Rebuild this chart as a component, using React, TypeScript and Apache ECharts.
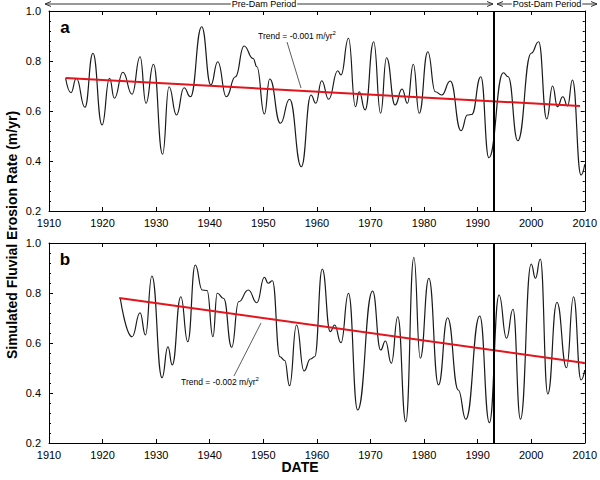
import React, { useEffect, useRef } from "react";
import * as echarts from "echarts";

const yearsA = [1913.1, 1914.1, 1915.1, 1916.7, 1918.2, 1919.9, 1921.3, 1922.2, 1923.8, 1925.5, 1927.0, 1928.1, 1929.5, 1931.2, 1932.4, 1933.8, 1935.2, 1936.4, 1938.5, 1940.2, 1941.5, 1943.1, 1944.8, 1946.4, 1948.1, 1948.8, 1950.2, 1951.2, 1953.2, 1954.9, 1957.1, 1958.9, 1959.8, 1960.9, 1962.2, 1963.9, 1964.5, 1965.9, 1967.2, 1967.9, 1969.0, 1970.6, 1971.9, 1973.0, 1974.6, 1975.9, 1976.9, 1978.0, 1979.1, 1980.7, 1982.1, 1983.3, 1984.9, 1986.9, 1988.1, 1988.9, 1990.6, 1992.1, 1994.8, 1995.7, 1997.5, 2000.0, 2001.4, 2002.9, 2004.0, 2004.9, 2005.9, 2006.8, 2007.7, 2009.3, 2010.0];
const valuesA = [0.731, 0.673, 0.731, 0.615, 0.831, 0.544, 0.731, 0.651, 0.755, 0.667, 0.817, 0.631, 0.787, 0.427, 0.697, 0.584, 0.693, 0.657, 0.937, 0.704, 0.797, 0.657, 0.737, 0.86, 0.81, 0.777, 0.588, 0.728, 0.551, 0.647, 0.377, 0.664, 0.631, 0.721, 0.647, 0.761, 0.744, 0.891, 0.617, 0.677, 0.604, 0.877, 0.591, 0.813, 0.624, 0.688, 0.631, 0.787, 0.591, 0.837, 0.677, 0.664, 0.72, 0.521, 0.584, 0.586, 0.737, 0.413, 0.753, 0.737, 0.481, 0.831, 0.877, 0.568, 0.70, 0.617, 0.657, 0.62, 0.724, 0.344, 0.387];

const yearsB = [1923.3, 1925.5, 1927.0, 1928.0, 1929.2, 1931.1, 1932.2, 1933.0, 1934.6, 1935.9, 1937.3, 1938.6, 1939.5, 1940.6, 1941.4, 1942.6, 1944.1, 1945.4, 1947.2, 1948.8, 1950.2, 1950.9, 1951.7, 1953.1, 1954.0, 1954.9, 1956.2, 1957.6, 1958.8, 1959.6, 1961.0, 1962.5, 1963.3, 1964.5, 1965.9, 1967.6, 1970.4, 1971.9, 1972.8, 1973.9, 1975.1, 1976.6, 1978.1, 1979.3, 1980.9, 1982.7, 1984.4, 1986.4, 1987.8, 1990.4, 1992.2, 1994.0, 1995.4, 1996.6, 1998.0, 2000.0, 2000.8, 2001.7, 2003.1, 2004.8, 2006.6, 2007.9, 2009.3, 2010.0];
const valuesB = [0.779, 0.625, 0.721, 0.632, 0.868, 0.461, 0.585, 0.512, 0.785, 0.605, 0.912, 0.812, 0.81, 0.625, 0.799, 0.778, 0.583, 0.765, 0.812, 0.761, 0.863, 0.839, 0.849, 0.545, 0.53, 0.429, 0.672, 0.488, 0.536, 0.545, 0.896, 0.645, 0.672, 0.601, 0.799, 0.332, 0.808, 0.572, 0.608, 0.519, 0.705, 0.285, 0.943, 0.539, 0.859, 0.432, 0.701, 0.412, 0.295, 0.708, 0.281, 0.792, 0.619, 0.735, 0.295, 0.916, 0.859, 0.936, 0.396, 0.763, 0.501, 0.785, 0.452, 0.492];

const trendA = [[1913.1, 0.732], [2009.1, 0.62]];
const trendB = [[1923.1, 0.78], [2010, 0.52]];
const damYear = 1993;
const yTicks = { min: 0.2, max: 1.0, interval: 0.2 };
const xTicks = { min: 1910, max: 2010, interval: 10 };

const FONT = "'Liberation Sans', Arial, sans-serif";

export default function App() {
  const ref = useRef<HTMLDivElement>(null);
  useEffect(() => {
    if (!ref.current) return;
    const chart = echarts.init(ref.current, null, { renderer: "svg" });
    const grids = [
      { left: 49, top: 11, width: 540, height: 200 },
      { left: 49, top: 243, width: 540, height: 200 },
    ];
    const xAxes: any[] = [];
    const yAxes: any[] = [];
    grids.forEach((g, i) => {
      xAxes.push({
        type: "value", gridIndex: i, position: "bottom", ...xTicks,
        axisLine: { show: true, onZero: false, lineStyle: { color: "#000", width: 1 } },
        axisTick: { inside: true, length: 4, lineStyle: { color: "#000" } },
        axisLabel: { color: "#000", fontSize: 11, fontFamily: FONT, margin: 6, formatter: (v: number) => String(v) },
        splitLine: { show: false },
      });
      xAxes.push({
        type: "value", gridIndex: i, position: "top", ...xTicks,
        axisLine: { show: true, onZero: false, lineStyle: { color: "#000", width: 1 } },
        axisTick: { inside: true, length: 4, lineStyle: { color: "#000" } },
        axisLabel: { show: false },
        splitLine: { show: false },
      });
      yAxes.push({
        type: "value", gridIndex: i, position: "left", ...yTicks,
        axisLine: { show: true, onZero: false, lineStyle: { color: "#000", width: 1 } },
        axisTick: { inside: true, length: 4, lineStyle: { color: "#000" } },
        minorTick: { show: true, splitNumber: 5, length: 2, lineStyle: { color: "#000" } },
        axisLabel: { color: "#000", fontSize: 11, fontFamily: FONT, margin: 8, formatter: (v: number) => v.toFixed(1) },
        splitLine: { show: false },
      });
      yAxes.push({
        type: "value", gridIndex: i, position: "right", ...yTicks,
        axisLine: { show: true, onZero: false, lineStyle: { color: "#000", width: 1 } },
        axisTick: { inside: true, length: 4, lineStyle: { color: "#000" } },
        minorTick: { show: true, splitNumber: 5, length: 2, lineStyle: { color: "#000" } },
        axisLabel: { show: false },
        splitLine: { show: false },
      });
    });

    const curve = (xs: number[], ys: number[]) => xs.map((x, i) => [x, ys[i]]);
    const damLine = {
      silent: true, symbol: "none", label: { show: false },
      lineStyle: { color: "#000", width: 2, type: "solid" },
      data: [{ xAxis: damYear }],
    };

    const sup = { fontSize: 6, verticalAlign: "top", padding: [0, 0, 6, 0], fontFamily: FONT, color: "#000" };

    chart.setOption({
      animation: false,
      backgroundColor: "#fff",
      grid: grids,
      xAxis: xAxes,
      yAxis: yAxes,
      series: [
        {
          type: "line", xAxisIndex: 0, yAxisIndex: 0, data: curve(yearsA, valuesA),
          smooth: 0.5, smoothMonotone: "x", showSymbol: false,
          lineStyle: { color: "#1a1a1a", width: 1.2 }, markLine: damLine, z: 3,
        },
        {
          type: "line", xAxisIndex: 0, yAxisIndex: 0, data: trendA, showSymbol: false,
          lineStyle: { color: "#e3141c", width: 2 }, z: 4,
        },
        {
          type: "line", xAxisIndex: 2, yAxisIndex: 2, data: curve(yearsB, valuesB),
          smooth: 0.5, smoothMonotone: "x", showSymbol: false,
          lineStyle: { color: "#1a1a1a", width: 1.2 }, markLine: damLine, z: 3,
        },
        {
          type: "line", xAxisIndex: 2, yAxisIndex: 2, data: trendB, showSymbol: false,
          lineStyle: { color: "#e3141c", width: 2 }, z: 4,
        },
      ],
      graphic: [
        // top period arrows
        { type: "line", shape: { x1: 45, y1: 4, x2: 493, y2: 4 }, style: { stroke: "#333", lineWidth: 1 } },
        { type: "polyline", shape: { points: [[51, 1.5], [45, 4], [51, 6.5]] }, style: { stroke: "#333", fill: null, lineWidth: 1 } },
        { type: "polyline", shape: { points: [[487, 1.5], [493, 4], [487, 6.5]] }, style: { stroke: "#333", fill: null, lineWidth: 1 } },
        { type: "line", shape: { x1: 497, y1: 4, x2: 597, y2: 4 }, style: { stroke: "#333", lineWidth: 1 } },
        { type: "polyline", shape: { points: [[503, 1.5], [497, 4], [503, 6.5]] }, style: { stroke: "#333", fill: null, lineWidth: 1 } },
        { type: "polyline", shape: { points: [[591, 1.5], [597, 4], [591, 6.5]] }, style: { stroke: "#333", fill: null, lineWidth: 1 } },
        { type: "text", x: 264, y: 4, style: { text: "Pre-Dam Period", fontSize: 9, fontFamily: FONT, fill: "#000", align: "center", verticalAlign: "middle", backgroundColor: "#fff", padding: [0, 1] } },
        { type: "text", x: 547, y: 4, style: { text: "Post-Dam Period", fontSize: 9, fontFamily: FONT, fill: "#000", align: "center", verticalAlign: "middle", backgroundColor: "#fff", padding: [0, 1] } },
        // panel labels
        { type: "text", x: 65, y: 27, style: { text: "a", fontSize: 17, fontWeight: "bold", fontFamily: FONT, fill: "#000", align: "center", verticalAlign: "middle" } },
        { type: "text", x: 65, y: 259, style: { text: "b", fontSize: 17, fontWeight: "bold", fontFamily: FONT, fill: "#000", align: "center", verticalAlign: "middle" } },
        // trend annotations
        {
          type: "text", x: 297, y: 36,
          style: { text: "Trend = -0.001 m/yr{s|2}", rich: { s: sup }, fontSize: 8.5, fontFamily: FONT, fill: "#000", align: "center", verticalAlign: "middle" },
        },
        { type: "line", shape: { x1: 287, y1: 42, x2: 301, y2: 88 }, style: { stroke: "#333", lineWidth: 0.8 } },
        {
          type: "text", x: 220, y: 382,
          style: { text: "Trend = -0.002 m/yr{s|2}", rich: { s: sup }, fontSize: 8.5, fontFamily: FONT, fill: "#000", align: "center", verticalAlign: "middle" },
        },
        { type: "line", shape: { x1: 234, y1: 376, x2: 261, y2: 323 }, style: { stroke: "#333", lineWidth: 0.8 } },
        // axis titles
        {
          type: "text", x: 12, y: 235, rotation: Math.PI / 2,
          style: { text: "Simulated Fluvial Erosion Rate (m/yr)", fontSize: 14, fontWeight: "bold", fontFamily: FONT, fill: "#000", align: "center", verticalAlign: "middle" },
        },
        { type: "text", x: 300, y: 467, style: { text: "DATE", fontSize: 14, fontWeight: "bold", fontFamily: FONT, fill: "#000", align: "center", verticalAlign: "middle" } },
      ],
    });
    return () => chart.dispose();
  }, []);
  return <div ref={ref} style={{ width: 600, height: 480, position: "absolute", left: 0, top: 0 }} />;
}
